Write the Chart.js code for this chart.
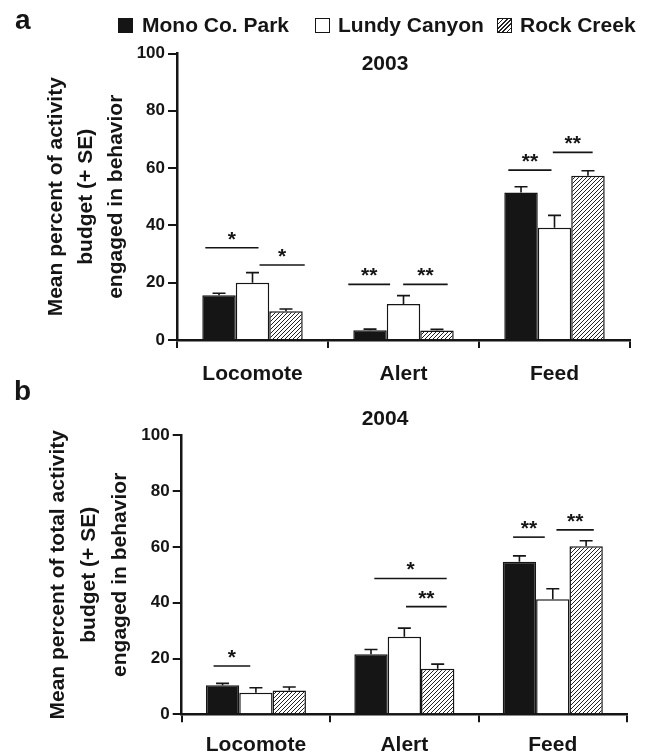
<!DOCTYPE html>
<html>
<head>
<meta charset="utf-8">
<script src="https://cdn.jsdelivr.net/npm/chart.js@4.4.1/dist/chart.umd.min.js"></script>
<style>
    body { margin: 0; background: #fff; }
    #page { position: relative; width: 650px; height: 754px; overflow: hidden; font-family: 'Liberation Sans', Arial, sans-serif; color: #151515; }
    canvas { position: absolute; left: 0; }
    #chartA { top: 0; }
    #chartB { top: 380px; }
    .tag { position: absolute; font-weight: bold; font-size: 28px; line-height: 32px; }
    .sw { position: absolute; top: 17.5px; width: 15px; height: 15px; box-sizing: border-box; border: 1.5px solid #151515; }
    .lab { position: absolute; top: 13px; font-weight: bold; font-size: 21px; line-height: 24px; white-space: nowrap; }
</style>
</head>
<body>
<div id="page">
    <canvas id="chartA" width="650" height="392"></canvas>
    <canvas id="chartB" width="650" height="374"></canvas>

    <div class="tag" style="left:15px; top:4px;">a</div>
    <div class="tag" style="left:14px; top:375px;">b</div>

    <span class="sw" style="left:118px; background:#151515;"></span>
    <span class="lab" style="left:142px;">Mono Co. Park</span>
    <span class="sw" style="left:315px; background:#fff;"></span>
    <span class="lab" style="left:338px;">Lundy Canyon</span>
    <span class="sw" style="left:497px; background:repeating-linear-gradient(135deg, #222 0 1.1px, #fff 1.1px 3px);"></span>
    <span class="lab" style="left:520px;">Rock Creek</span>
</div>

<script>
const behaviours = ['Locomote', 'Alert', 'Feed'];
const sites = ['Mono Co. Park', 'Lundy Canyon', 'Rock Creek'];
const yTickValues = [0, 20, 40, 60, 80, 100];

// panel a, 2003
const mono2003 = [15.6, 3.4, 51.5];
const lundy2003 = [20.0, 12.6, 39.2];
const rock2003 = [10.0, 3.3, 57.3];
const mono2003SE = [0.7, 0.4, 2.0];
const lundy2003SE = [3.5, 2.9, 4.3];
const rock2003SE = [0.8, 0.4, 1.8];
// [behaviour, from bar, to bar, height, label]  (bars counted 0..3 inside a group)
const sig2003 = [
    [0, 0.09, 1.68, 32.2, '*'],
    [0, 1.71, 3.06, 26.2, '*'],
    [1, -0.15, 1.10, 19.4, '**'],
    [1, 1.49, 2.82, 19.4, '**'],
    [2, 0.12, 1.41, 59.3, '**'],
    [2, 1.45, 2.64, 65.5, '**']
];

// panel b, 2004
const mono2004 = [10.4, 21.5, 54.7];
const lundy2004 = [7.7, 27.8, 41.2];
const rock2004 = [8.5, 16.3, 60.2];
const mono2004SE = [0.7, 1.7, 2.1];
const lundy2004SE = [1.8, 3.1, 3.8];
const rock2004SE = [1.3, 1.7, 2.0];
const sig2004 = [
    [0, 0.23, 1.33, 17.3, '*'],
    [1, 0.60, 2.77, 48.7, '*'],
    [1, 1.55, 2.77, 38.6, '**'],
    [2, 0.31, 1.26, 63.5, '**'],
    [2, 1.61, 2.73, 66.1, '**']
];

const ink = '#151515';
Chart.defaults.font.family = "'Liberation Sans', Arial, sans-serif";
Chart.defaults.color = ink;

function hatch(ctx) {
    const n = 4;
    const tile = document.createElement('canvas');
    tile.width = tile.height = n;
    const g = tile.getContext('2d');
    g.fillStyle = '#fff';
    g.fillRect(0, 0, n, n);
    g.strokeStyle = '#222';
    g.lineWidth = 1;
    g.beginPath();
    g.moveTo(-1, n + 1); g.lineTo(n + 1, -1);
    g.moveTo(-1, 1); g.lineTo(1, -1);
    g.moveTo(n - 1, n + 1); g.lineTo(n + 1, n - 1);
    g.stroke();
    return ctx.createPattern(tile, 'repeat');
}

// error bars (upper only), significance lines and the year label
function extras(p) {
    return {
        id: 'extras',
        afterDatasetsDraw(chart) {
            const ctx = chart.ctx;
            const y = chart.scales.y;
            ctx.save();
            ctx.strokeStyle = ink;
            ctx.fillStyle = ink;
            ctx.lineWidth = 1.6;

            chart.data.datasets.forEach((ds, i) => {
                chart.getDatasetMeta(i).data.forEach((bar, j) => {
                    const top = y.getPixelForValue(ds.data[j] + ds.se[j]);
                    ctx.beginPath();
                    ctx.moveTo(bar.x, bar.y);
                    ctx.lineTo(bar.x, top);
                    ctx.moveTo(bar.x - 6.5, top);
                    ctx.lineTo(bar.x + 6.5, top);
                    ctx.stroke();
                });
            });

            ctx.font = 'bold 21px ' + Chart.defaults.font.family;
            ctx.textAlign = 'center';
            ctx.textBaseline = 'alphabetic';
            const first = chart.getDatasetMeta(0).data;
            p.sig.forEach(([cat, from, to, val, label]) => {
                const w = first[cat].width;
                const left = first[cat].x - w / 2;
                const x1 = left + from * w, x2 = left + to * w;
                const py = y.getPixelForValue(val);
                ctx.beginPath();
                ctx.moveTo(x1, py);
                ctx.lineTo(x2, py);
                ctx.stroke();
                ctx.fillText(label, (x1 + x2) / 2, py - 2);
            });

            ctx.textBaseline = 'middle';
            ctx.fillText(p.year, p.yearX, p.yearY);
            ctx.restore();
        }
    };
}

function makePanel(id, p) {
    const canvas = document.getElementById(id);
    const fills = [ink, '#ffffff', hatch(canvas.getContext('2d'))];
    return new Chart(canvas, {
        type: 'bar',
        data: {
            labels: behaviours,
            datasets: sites.map((s, i) => ({
                label: s,
                data: p.values[i],
                se: p.se[i],
                backgroundColor: fills[i],
                borderColor: ink,
                borderWidth: 1.5,
                categoryPercentage: p.group,
                barPercentage: 1
            }))
        },
        options: {
            responsive: false,
            animation: false,
            layout: { padding: { top: p.top, right: p.right, bottom: 0, left: 0 } },
            plugins: { legend: { display: false }, tooltip: { enabled: false } },
            scales: {
                x: {
                    grid: { offset: true, drawOnChartArea: false, tickLength: 8, lineWidth: 2, color: ink },
                    border: { color: ink, width: 2.5 },
                    ticks: { font: { size: 21, weight: 'bold' }, color: ink, padding: p.labelPad, maxRotation: 0, autoSkip: false },
                    afterFit: s => { s.height = p.xHeight; }
                },
                y: {
                    min: 0,
                    max: 100,
                    afterBuildTicks: s => { s.ticks = yTickValues.map(v => ({ value: v })); },
                    grid: { drawOnChartArea: false, tickLength: 9, lineWidth: 2, color: ink },
                    border: { color: ink, width: 2.5 },
                    ticks: { font: { size: 17, weight: 'bold' }, color: ink, padding: 3 },
                    title: {
                        display: true,
                        text: p.yTitle,
                        color: ink,
                        font: { size: 21, weight: 'bold', lineHeight: p.titleLine + 'px' },
                        padding: { top: p.titlePad, bottom: 0 }
                    },
                    afterFit: s => { s.width = p.yWidth; }
                }
            }
        },
        plugins: [extras(p)]
    });
}

makePanel('chartA', {
    values: [mono2003, lundy2003, rock2003],
    se: [mono2003SE, lundy2003SE, rock2003SE],
    sig: sig2003,
    year: '2003', yearX: 385, yearY: 64,
    yTitle: ['Mean percent of activity', 'budget (+ SE)', 'engaged in behavior'],
    titleLine: 30, titlePad: 41.7,
    group: 0.665,
    top: 53.5, right: 20, yWidth: 177, xHeight: 52, labelPad: 13.6
});

makePanel('chartB', {
    values: [mono2004, lundy2004, rock2004],
    se: [mono2004SE, lundy2004SE, rock2004SE],
    sig: sig2004,
    year: '2004', yearX: 385, yearY: 39.3,
    yTitle: ['Mean percent of total activity', 'budget (+ SE)', 'engaged in behavior'],
    titleLine: 31, titlePad: 42.5,
    group: 0.674,
    top: 55.3, right: 23, yWidth: 181.7, xHeight: 39.7, labelPad: 10.5
});
</script>
</body>
</html>
